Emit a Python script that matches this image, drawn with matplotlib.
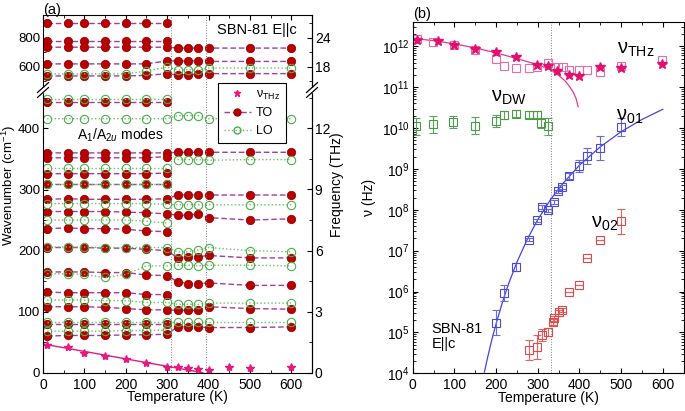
import numpy as np
from matplotlib import pyplot as plt
from matplotlib.lines import Line2D
from matplotlib.ticker import MultipleLocator, LogLocator, NullFormatter

plt.rcParams['font.family'] = ['Liberation Sans', 'DejaVu Sans']
plt.rcParams['mathtext.fontset'] = 'custom'
plt.rcParams['mathtext.rm'] = 'Liberation Sans'
plt.rcParams['mathtext.it'] = 'Liberation Sans:italic'
plt.rcParams['font.size'] = 10

n = np.nan

# ---- panel (a): phonon modes (cm-1) ----
T_modes = [10, 60, 100, 150, 200, 250, 300, 325, 350, 375, 400, 500, 600]

to_modes = [
    [903, 903, 903, 903, 903, 903, 903, n, n, n, n, n, n],
    [775, 775, 775, 775, 775, 775, 775, n, n, n, n, n, n],
    [734, 734, 734, 734, 734, 734, 734, 728, 728, 728, 728, 728, 728],
    [619, 619, 619, 619, 619, 619, 640, 639, 639, 639, 636, 636, 636],
    [536, 536, 536, 536, 536, 540, 551, 543, 545, 547, 552, 552, 552],
    [443, 443, 443, 443, 443, 443, 443, n, n, n, n, n, n],
    [360, 360, 360, 360, 360, 360, 360, 361, 361, 361, 361, 361, 361],
    [352, 352, 352, 352, 352, 352, 354, n, n, n, n, n, n],
    [326, 326, 326, 326, 326, 326, 327, n, n, n, n, n, n],
    [309, 309, 309, 309, 309, 309, 309, n, n, n, n, n, n],
    [284, 285, 284, 284, 284, 284, 285, 291, 291, 291, 291, 291, 291],
    [264, 264, 264, 264, 263, 262, 260, 258, 258, 260, 254, 250, 252],
    [236, 237, 236, 236, 235, 232, 231, n, n, n, n, n, n],
    [205, 205, 205, 204, 204, 202, 200, 188, 189, 190, 192, 188, 188],
    [165, 165, 165, 164, 164, 160, 159, 149, 146, 146, 147, 143, 143],
    [132, 131, 131, 131, 131, 128, 128, n, n, n, n, n, n],
    [108, 108, 108, 107, 105, 103, 103, 102, 102, 102, 108, 105, 104],
    [79, 79, 79, 79, 79, 79, 79, n, n, n, n, n, n],
    [60, 61, 61, 61, 62, 62, 63, 75, 75, 75, 74, 74, 75],
]

lo_modes = [
    [550, 550, 550, 550, 550, 570, 597, 577, 578, 578, 591, 591, 590],
    [449, 449, 449, 449, 449, 449, 449, n, n, n, n, n, n],
    [416, 416, 416, 416, 416, 416, 416, 421, 421, 421, 416, 416, 416],
    [n, n, n, n, n, n, n, 349, 349, 349, 348, 349, 349],
    [336, 336, 336, 336, 336, 336, 336, n, n, n, n, n, n],
    [309, 309, 309, 309, 309, 309, 309, n, n, n, n, n, n],
    [277, 277, 277, 277, 277, 277, 276, 275, 275, 275, 275, 275, 275],
    [250, 250, 250, 250, 250, 248, 245, n, n, n, n, n, n],
    [206, 206, 206, 205, 205, 205, 205, 198, 198, 201, 205, 200, 198],
    [162, 162, 161, 156, 161, 175, 175, 176, 176, 175, 176, 176, 175],
    [119, 119, 119, 118, 118, 115, 115, 112, 112, 112, 114, 114, 114],
    [83.5, 83.5, 83.5, 83.5, 83.5, 83.5, 83.5, 83.5, 83.5, 83.5, 83.5, 83.5, 83.5],
    [68, 68, 68, 68, 69, 69, 70, n, n, n, n, n, n],
]

T_thz_a = [10, 60, 100, 150, 200, 250, 300, 325, 350, 375, 400, 450, 500, 600]
thz_a = [46, 42, 33, 27, 22.5, 16, 10, 9.5, 7.5, 6, 4.5, 9, 8, 10]
fit_T_a = [0, 386]
fit_thz_a = [47, 0]

# ---- panel (b): relaxation frequencies (log10 Hz) ----
T_thz_sq = [11, 49, 99, 149, 199, 219, 248, 280, 299, 325, 340, 349, 360, 374, 399, 419, 449, 499, 598]
thz_sq = [12.19, 12.11, 12.04, 11.9, 11.68, 11.51, 11.48, 11.48, 11.49, 11.6, 11.49, 11.49, 11.49,
          11.41, 11.41, 11.41, 11.38, 11.52, 11.66]
T_thz_st = [11, 60, 99, 149, 199, 248, 299, 325, 347, 374, 399, 449, 499, 598]
thz_st = [12.15, 12.13, 12.03, 11.94, 11.86, 11.74, 11.54, 11.52, 11.4, 11.29, 11.27, 11.49, 11.46, 11.56]
fit_T_thz = [0, 50, 100, 150, 200, 250, 300, 330, 350, 365, 376, 385, 392, 397]
fit_thz = [12.19, 12.14, 12.06, 11.96, 11.84, 11.70, 11.55, 11.43, 11.29, 11.16, 11.02, 10.88, 10.72, 10.52]

T_dw = [9, 48, 97, 149, 199, 219, 248, 280, 299, 308, 324]
dw = [10.04, 10.09, 10.14, 10.06, 10.17, 10.31, 10.35, 10.33, 10.33, 10.12, 10.04]
dw_err = [0.2, 0.2, 0.15, 0.2, 0.15, 0.1, 0.08, 0.08, 0.08, 0.12, 0.2]

T_01 = [199, 219, 249, 279, 299, 309, 324, 338, 349, 358, 374, 398, 419, 449, 499]
nu01 = [5.24, 5.96, 6.6, 7.27, 7.74, 8.07, 7.99, 8.19, 8.45, 8.56, 8.82, 9.08, 9.31, 9.51, 10.02]
nu01_err = [0.3, 0.2, 0.1, 0.04, 0.04, 0.04, 0.04, 0.04, 0.04, 0.04, 0.07, 0.15, 0.2, 0.3, 0.22]
fit_T_01 = [172, 180, 190, 200, 215, 230, 250, 275, 300, 330, 360, 400, 450, 500, 550, 600]
fit_01 = [4.03, 4.40, 4.83, 5.21, 5.73, 6.19, 6.72, 7.28, 7.76, 8.24, 8.64, 9.09, 9.54, 9.91, 10.21, 10.46]

T_02 = [279, 299, 309, 324, 336, 340, 350, 358, 374, 398, 419, 449, 499]
nu02 = [4.57, 4.64, 4.94, 5.02, 5.26, 5.35, 5.51, 5.55, 5.98, 6.16, 6.83, 7.25, 7.72]
nu02_err = [0.25, 0.3, 0.15, 0.1, 0.08, 0.06, 0.05, 0.05, 0, 0, 0, 0, 0.3]

CM_PER_THZ = 33.356

c_red = '#b80000'
c_purple = '#a0409a'
c_green = '#4cae4c'
c_pink = '#e6197d'

fig = plt.figure(figsize=(6.85, 4.11), dpi=100)

ax_lo = fig.add_axes([0.0628, 0.0932, 0.3927, 0.6878])
ax_hi = fig.add_axes([0.0628, 0.781, 0.3927, 0.1825])

for ax, upper in [(ax_lo, False), (ax_hi, True)]:
    for mode in to_modes:
        if (np.nanmean(mode) > 480) != upper:
            continue
        ax.plot(T_modes, mode, ls=(0, (4, 2)), color=c_purple, lw=1,
                marker='o', ms=6, mfc=c_red, mec='#a00000', mew=0.6)
    for mode in lo_modes:
        if (np.nanmean(mode) > 480) != upper:
            continue
        ax.plot(T_modes, mode, ls=':', color='#6cc06c', lw=1,
                marker='o', ms=6, mfc='none', mec=c_green, mew=0.8)
    for tv in [310, 395]:
        ax.axvline(tv, color='gray', ls=':', lw=0.7)
    ax.set_xlim(0, 650)
    ax.xaxis.set_major_locator(MultipleLocator(100))
    ax.xaxis.set_minor_locator(MultipleLocator(50))
    ax.tick_params(which='both', direction='in', top=upper, bottom=not upper, labelsize=10)
    ax.tick_params(axis='y', pad=2, labelsize=9.5)

ax_lo.plot(T_thz_a, thz_a, ls='none', marker='*', ms=6, color=c_pink)
ax_lo.plot(fit_T_a, fit_thz_a, color=c_pink, lw=1)

ax_lo.set_ylim(0, 463)
ax_lo.yaxis.set_major_locator(MultipleLocator(100))
ax_lo.yaxis.set_minor_locator(MultipleLocator(50))
ax_lo.spines['top'].set_visible(False)
ax_lo.set_xlabel('Temperature (K)', fontsize=10, labelpad=-1)

ax_hi.set_ylim(439, 956)
ax_hi.set_yticks([600, 800])
ax_hi.yaxis.set_minor_locator(MultipleLocator(100))
ax_hi.spines['bottom'].set_visible(False)
ax_hi.tick_params(labelbottom=False)

sec_lo = ax_lo.secondary_yaxis('right', functions=(lambda x: x / CM_PER_THZ, lambda x: x * CM_PER_THZ))
sec_lo.set_yticks([0, 3, 6, 9, 12])
sec_lo.yaxis.set_minor_locator(MultipleLocator(1.5))
sec_lo.tick_params(which='both', direction='in', labelsize=10, pad=2)
sec_hi = ax_hi.secondary_yaxis('right', functions=(lambda x: x / CM_PER_THZ, lambda x: x * CM_PER_THZ))
sec_hi.set_yticks([18, 24])
sec_hi.set_yticks([15, 21, 27], minor=True)
sec_hi.tick_params(which='both', direction='in', labelsize=10, pad=2)

# broken-axis marks
yb = 0.781
for xb in [0.0628, 0.0628 + 0.3927]:
    fig.patches.append(plt.Rectangle((xb - 0.004, yb - 0.006), 0.008, 0.012, transform=fig.transFigure,
                                     color='white', zorder=5))
    for dy in [-0.006, 0.006]:
        fig.lines.append(Line2D([xb - 0.008, xb + 0.008], [yb + dy - 0.012, yb + dy + 0.012],
                                transform=fig.transFigure, color='black', lw=0.9, zorder=6))

ax_hi.text(614, 853, 'SBN-81 E||c', ha='right', va='center', fontsize=10.5)
ax_lo.text(82, 389, r'A$_1$/A$_{2u}$ modes', ha='left', va='center', fontsize=10)

fig.text(0.0135, 0.55, r'Wavenumber (cm$^{-1}$)', rotation=90, ha='center', va='center', fontsize=9.5)
fig.text(0.492, 0.55, 'Frequency (THz)', rotation=90, ha='center', va='center', fontsize=10)
fig.text(0.063, 0.975, '(a)', ha='left', va='center', fontsize=10.5)

handles = [
    Line2D([], [], ls='none', marker='*', ms=5, color=c_pink),
    Line2D([], [], ls=(0, (4, 2)), color=c_purple, lw=1, marker='o', ms=5, mfc=c_red, mec='#a00000'),
    Line2D([], [], ls=':', color='#6cc06c', lw=1, marker='o', ms=5, mfc='none', mec=c_green),
]
leg = fig.legend(handles, ['ν$_{\\rm THz}$', 'TO', 'LO'], loc='upper left',
                 bbox_to_anchor=(218 / 685, 1 - 83 / 411), bbox_transform=fig.transFigure,
                 borderaxespad=0, fancybox=False, framealpha=1, edgecolor='black', fontsize=9,
                 handlelength=2.2, handletextpad=0.4, borderpad=0.45, labelspacing=0.45)
leg.get_frame().set_linewidth(0.8)

# ---- panel (b) ----
ax_b = fig.add_axes([0.6025, 0.0917, 0.3955, 0.8555])


def log_err(vals, errs):
    v = 10.0 ** np.array(vals)
    e = np.array(errs)
    return v, [v - 10.0 ** (np.array(vals) - e), 10.0 ** (np.array(vals) + e) - v]


ax_b.plot(fit_T_thz, 10.0 ** np.array(fit_thz), color='#e8388a', lw=0.9)
ax_b.plot(T_thz_sq, 10.0 ** np.array(thz_sq), ls='none', marker='s', ms=6, mfc='none',
          mec='#ea6aa6', mew=0.8)
ax_b.plot(T_thz_st, 10.0 ** np.array(thz_st), ls='none', marker='*', ms=7, color='#e0106f')

v, e = log_err(dw, dw_err)
ax_b.errorbar(T_dw, v, yerr=e, ls='none', marker='s', ms=6, mfc='none', mec='#4a9a4a',
              ecolor='#5aa25a', elinewidth=0.8, capsize=3, mew=0.8)

ax_b.plot(fit_T_01, 10.0 ** np.array(fit_01), color='#4444dd', lw=0.9)
v, e = log_err(nu01, nu01_err)
ax_b.errorbar(T_01, v, yerr=e, ls='none', marker='s', ms=6, mfc='none', mec='#4a4ad6',
              ecolor='#6a6ae0', elinewidth=0.8, capsize=3, mew=0.8)

v, e = log_err(nu02, nu02_err)
ax_b.errorbar(T_02, v, yerr=e, ls='none', marker='s', ms=6, mfc='none', mec='#e04848',
              ecolor='#e86060', elinewidth=0.8, capsize=3, mew=0.8)

ax_b.axvline(331, color='gray', ls=':', lw=0.7)

ax_b.set_yscale('log')
ax_b.set_xlim(0, 650)
ax_b.set_ylim(1e4, 4e12)
ax_b.xaxis.set_major_locator(MultipleLocator(100))
ax_b.xaxis.set_minor_locator(MultipleLocator(50))
ax_b.yaxis.set_major_locator(LogLocator(base=10, numticks=20))
ax_b.yaxis.set_minor_locator(LogLocator(base=10, subs=np.arange(2, 10), numticks=100))
ax_b.yaxis.set_minor_formatter(NullFormatter())
ax_b.tick_params(which='both', direction='in', top=True, right=True, labelsize=10)
ax_b.tick_params(axis='y', pad=2)
ax_b.set_xlabel('Temperature (K)', fontsize=10, labelpad=-1)
ax_b.set_ylabel('ν (Hz)', fontsize=10, labelpad=4)

ax_b.text(490, 5.0e11, 'ν$_{\\rm THz}$', fontsize=14.5, ha='left', va='bottom')
ax_b.text(188, 3.2e10, 'ν$_{\\rm DW}$', fontsize=14.5, ha='left', va='bottom')
ax_b.text(487, 1.15e10, 'ν$_{\\rm 01}$', fontsize=14.5, ha='left', va='bottom')
ax_b.text(428, 2.7e7, 'ν$_{\\rm 02}$', fontsize=14.5, ha='left', va='bottom')
ax_b.text(45, 1.8e5, 'SBN-81\nE||c', fontsize=10.5, ha='left', va='top', linespacing=1.1)
fig.text(0.603, 0.965, '(b)', ha='left', va='center', fontsize=10.5)

plt.savefig('out.png', dpi=100)
